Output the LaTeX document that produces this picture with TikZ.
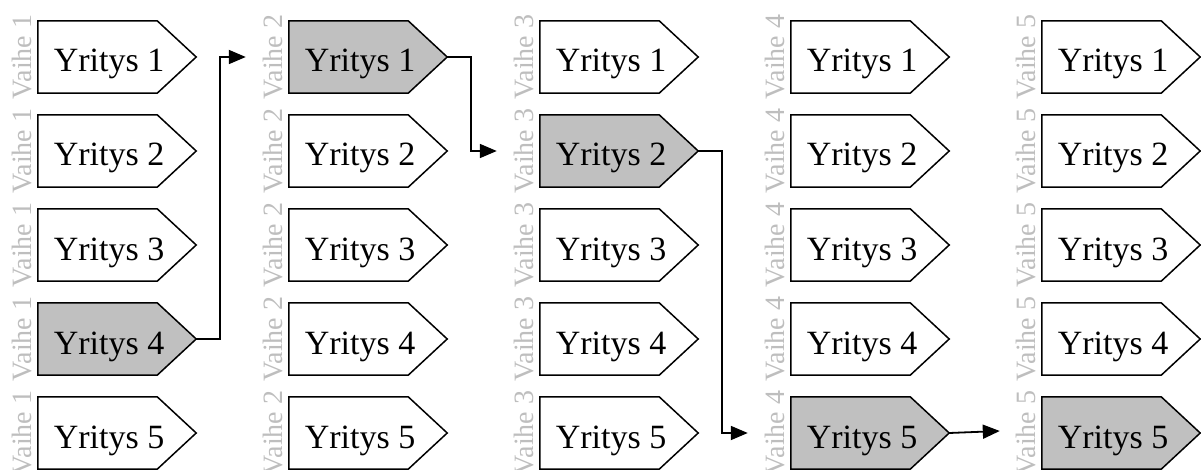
\documentclass[tikz,border=0pt]{standalone}
\usepackage{fontspec}
\setmainfont{Liberation Serif}
\usetikzlibrary{arrows.meta,calc}
\definecolor{boxhl}{RGB}{192,192,192}
\definecolor{stagegray}{RGB}{190,190,190}
\tikzset{
  boxslot/.style={rectangle, minimum width=158pt, minimum height=72pt, inner sep=0pt},
  boxline/.style={draw=black, line width=1.5pt, line join=miter},
  firmtext/.style={anchor=base, inner sep=0pt, font=\fontsize{34}{36}\selectfont},
  stagetext/.style={anchor=base, rotate=90, inner sep=0pt, text=stagegray,
                    font=\fontsize{28}{30}\selectfont},
  conn/.style={draw=black, line width=1.8pt, line join=miter,
               -{Triangle[length=17pt,width=14pt]}},
}
\begin{document}
\begin{tikzpicture}[x=1pt, y=-1pt]
  \useasboundingbox (0,0) rectangle (1201,470);
  % five stages, each with five firms; the chosen firm of each stage is shaded
  \foreach \c/\hr in {1/4, 2/1, 3/2, 4/5, 5/5} {
    \foreach \r in {1,...,5} {
      \ifnum\r=\hr \def\fc{boxhl}\else\def\fc{white}\fi
      \pgfmathsetmacro{\bx}{38 + 251*(\c-1) + 79}
      \pgfmathsetmacro{\by}{57 + 94*(\r-1)}
      \node[boxslot] (b\c\r) at (\bx,\by) {};
      \draw[boxline, fill=\fc]
        (b\c\r.north west) -- ([xshift=-39pt]b\c\r.north east) -- (b\c\r.east)
        -- ([xshift=-39pt]b\c\r.south east) -- (b\c\r.south west) -- cycle;
      \node[firmtext] (t\c\r) at ([xshift=-8pt, yshift=-15pt]b\c\r.center) {Yritys \r};
      \node[stagetext] (v\c\r) at ([xshift=-6pt]b\c\r.west) {Vaihe \c};
    }
  }
  % path of the chosen firm from stage to stage
  \coordinate (e2) at ([xshift=-43pt]b21.west);
  \coordinate (e3) at ([xshift=-43pt]b32.west);
  \coordinate (e4) at ([xshift=-43pt]b45.west);
  \coordinate (e5) at ([xshift=-42pt, yshift=2pt]b55.west);
  \draw[conn] (b14.east) -- ++(24,0) |- (e2);
  \draw[conn] (b21.east) -- ++(24,0) |- (e3);
  \draw[conn] (b32.east) -- ++(24,0) |- (e4);
  \draw[conn] (b45.east) -- (e5);
\end{tikzpicture}
\end{document}
